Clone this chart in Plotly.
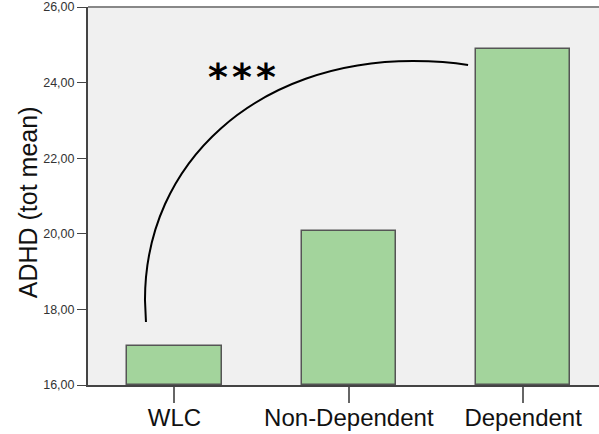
import plotly.graph_objects as go

categories = ["WLC", "Non-Dependent", "Dependent"]
adhd_mean = [17.02, 20.08, 24.89]
y_ticks = [16, 18, 20, 22, 24, 26]
y_tick_labels = ["16,00", "18,00", "20,00", "22,00", "24,00", "26,00"]
y_title = "ADHD (tot mean)"
sig_mark = "<b>*</b>"
sig_mark_x = [0.252, 0.387, 0.525]

x_pos = list(range(len(categories)))

fig = go.Figure()
fig.add_trace(go.Bar(
    x=x_pos, y=[v - 16 for v in adhd_mean], base=16,
    width=0.54,
    marker=dict(color="#a3d49c", line=dict(color="#555555", width=1.5)),
    hoverinfo="skip",
))

# significance arc (annotation, in data coordinates)
arc_path = ("M -0.1635,17.667 L -0.1692,18.249 "
            "C -0.1692,21.926 0.479,24.571 1.368,24.571 "
            "Q 1.552,24.571 1.684,24.466")
fig.add_shape(type="path", path=arc_path, xref="x", yref="y",
              line=dict(color="black", width=2))

for sx in sig_mark_x:
    fig.add_annotation(x=sx, y=24.33, xref="x", yref="y", text=sig_mark,
                       showarrow=False, yanchor="middle", yshift=-7,
                       font=dict(family="DejaVu Sans", size=38, color="black"))

# y axis title
fig.add_annotation(x=-0.117, y=0.484, xref="paper", yref="paper", text=y_title,
                   showarrow=False, textangle=-90, xanchor="center", yanchor="middle",
                   font=dict(size=25, color="#111"))

# top border
fig.add_shape(type="line", xref="paper", yref="paper", x0=0, x1=1, y0=1, y1=1,
              line=dict(color="#888888", width=2))

fig.update_layout(
    width=599, height=434,
    margin=dict(l=88, r=0, t=7, b=49, autoexpand=False),
    paper_bgcolor="white",
    plot_bgcolor="#f0f0f0",
    showlegend=False,
    font=dict(family="Liberation Sans, Arial, sans-serif", color="#000"),
    bargap=0,
)
fig.update_xaxes(
    range=[-0.496, 2.435], automargin=False,
    tickvals=x_pos, ticktext=categories,
    tickfont=dict(size=24, color="#111"),
    ticks="outside", ticklen=16, tickwidth=1.5, tickcolor="#666",
    ticklabelstandoff=-6, ticklabeloverflow="allow",
    showline=True, linecolor="#444", linewidth=2,
    showgrid=False, zeroline=False,
)
fig.update_yaxes(
    range=[16, 26], automargin=False,
    tickvals=y_ticks, ticktext=y_tick_labels,
    tickfont=dict(size=12.5, color="#333"),
    ticks="outside", ticklen=9, tickwidth=1, tickcolor="#444",
    ticklabeloverflow="allow",
    showline=True, linecolor="#444", linewidth=2,
    showgrid=False, zeroline=False,
)

fig.write_html("out.html", config={"displayModeBar": False},
               post_script="document.body.style.margin='0';")
